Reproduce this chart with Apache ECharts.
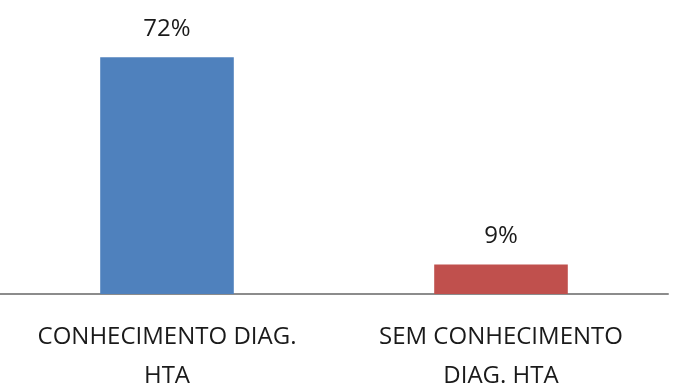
<!DOCTYPE html>
<html><head><meta charset="utf-8">
<script src="https://cdn.jsdelivr.net/npm/echarts@6/dist/echarts.min.js"></script>
<style>html,body{margin:0;padding:0;background:#fff}#c{width:675px;height:391px}</style>
</head><body><div id="c"></div>
<script>
const categories = ["CONHECIMENTO DIAG.\nHTA", "SEM CONHECIMENTO\nDIAG. HTA"];
const values = [72, 9];
const colors = ["#4F81BD", "#C0504D"];
const FONT = "Open Sans";
const chart = echarts.init(document.getElementById('c'));
chart.setOption({
  animation: false,
  grid: {left: 0, right: 7, top: 31, bottom: 97, containLabel: false, outerBoundsMode: 'none'},
  xAxis: {
    type: 'category', data: categories,
    axisLine: {lineStyle: {color: '#8C8C8C', width: 2}},
    axisTick: {show: false},
    axisLabel: {color: '#1a1a1a', fontFamily: FONT, fontSize: 24, lineHeight: 39, margin: 24, interval: 0}
  },
  yAxis: {type: 'value', min: 0, max: 80, show: false, splitLine: {show: false}},
  series: [{
    type: 'bar', barWidth: '40%',
    data: values.map((v, i) => ({value: v, itemStyle: {color: colors[i]}})),
    label: {show: true, position: 'top', distance: 16, formatter: '{c}%', color: '#1a1a1a', fontFamily: FONT, fontSize: 24}
  }]
});
</script></body></html>
